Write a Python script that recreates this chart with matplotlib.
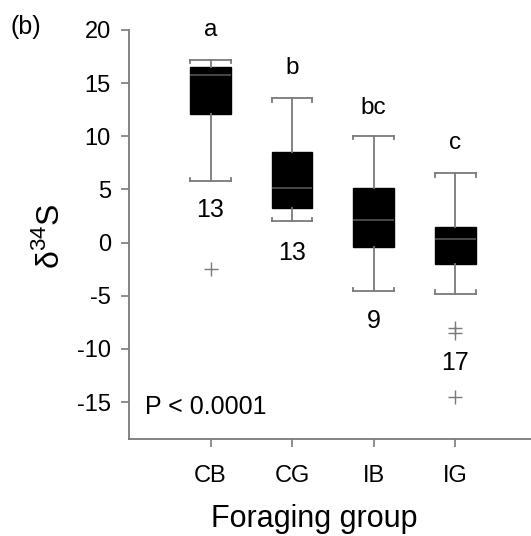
import numpy as np
import matplotlib
matplotlib.use('Agg')
from matplotlib import pyplot as plt

plt.rcParams['font.family'] = ['Liberation Sans', 'DejaVu Sans']
plt.rcParams['mathtext.fontset'] = 'custom'
plt.rcParams['mathtext.rm'] = 'Liberation Sans'

groups = ['CB', 'CG', 'IB', 'IG']
whislo = [5.75, 2.0, -4.6, -4.8]
q1 = [12.1, 3.3, -0.4, -2.05]
med = [15.8, 5.1, 2.15, 0.35]
q3 = [16.5, 8.5, 5.1, 1.45]
whishi = [17.2, 13.6, 10.05, 6.5]
outliers = [[-2.45], [], [], [-8.0, -8.5, -14.55]]
letters = ['a', 'b', 'bc', 'c']
letter_y = [20.0, 16.4, 12.7, 9.4]
counts = ['13', '13', '9', '17']
count_y = [3.1, -1.0, -7.4, -11.35]

grey = '#7a7a7a'

fig = plt.figure(figsize=(5.31, 5.36), dpi=100, facecolor='w')
ax = fig.add_axes([129 / 531, 97 / 536, 1 - 129 / 531, (439 - 30) / 536])

pos = np.arange(1, len(groups) + 1)
stats = []
for i in range(len(groups)):
    stats.append({'whislo': whislo[i], 'q1': q1[i], 'med': med[i], 'q3': q3[i],
                  'whishi': whishi[i], 'fliers': outliers[i]})

width = 0.5
ax.bxp(stats, positions=pos, widths=width, patch_artist=True,
       boxprops=dict(facecolor='black', edgecolor='black', linewidth=1),
       medianprops=dict(color='#555555', linewidth=1.2),
       whiskerprops=dict(color=grey, linewidth=1.3),
       capprops=dict(color=grey, linewidth=1.3),
       capwidths=width,
       flierprops=dict(marker='+', markeredgecolor=grey, markersize=10, markeredgewidth=1))

# little bracket ends on the caps
d = 0.35
for i in range(len(groups)):
    for x in (pos[i] - width / 2, pos[i] + width / 2):
        ax.plot([x, x], [whishi[i], whishi[i] - d], color=grey, lw=1.3)
        ax.plot([x, x], [whislo[i], whislo[i] + d], color=grey, lw=1.3)

for i in range(len(groups)):
    ax.text(pos[i], letter_y[i], letters[i], ha='center', va='center', fontsize=17.5)
    ax.text(pos[i], count_y[i], counts[i], ha='center', va='center', fontsize=18)

ax.text(0.2, -15.5, 'P < 0.0001', ha='left', va='center', fontsize=18)

ax.set_xlim(0, 4.93)
ax.set_ylim(-18.48, 20)
ax.set_xticks(pos)
ax.set_xticklabels(groups)
ax.set_yticks([-15, -10, -5, 0, 5, 10, 15, 20])
ax.set_yticklabels(['-15', '-10', '-5', '0', '5', '10', '15', '20'])
ax.tick_params(axis='both', color=grey, length=6, width=1.2, labelsize=17)
ax.tick_params(axis='x', pad=13)
ax.tick_params(axis='y', pad=7)

for s in ['top', 'right']:
    ax.spines[s].set_visible(False)
for s in ['left', 'bottom']:
    ax.spines[s].set_color(grey)
    ax.spines[s].set_linewidth(1.3)
ax.spines['left'].set_bounds(-18.48, 20)

fig.text(50 / 531, 1 - 236 / 536, 'δ$^{34}$S', rotation=90, ha='center', va='center', fontsize=23)
fig.text(314 / 531, 1 - 519 / 536, 'Foraging group', ha='center', va='center', fontsize=22)
fig.text(10 / 531, 1 - 27 / 536, '(b)', ha='left', va='center', fontsize=18)

fig.savefig('out.png', dpi=100)
